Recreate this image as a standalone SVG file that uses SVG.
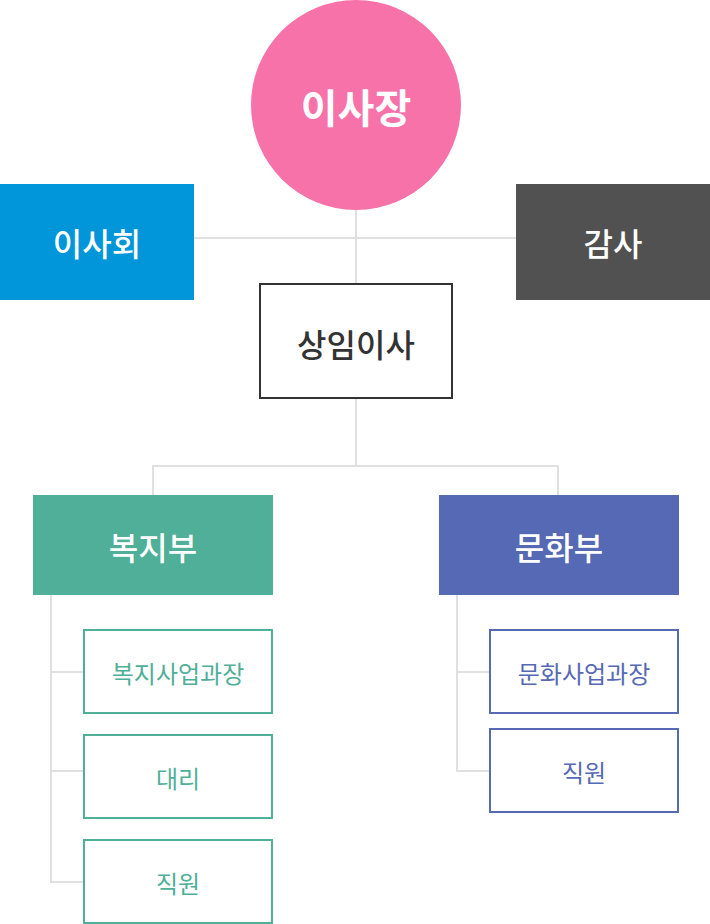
<svg xmlns="http://www.w3.org/2000/svg" width="710" height="924" viewBox="0 0 710 924">
<style>
text{font-family:"Noto Sans CJK KR","Noto Sans",sans-serif;text-anchor:middle;dominant-baseline:central}
.w{fill:#fff;font-size:32px;font-weight:500}
.line{stroke:#e0e0e0;stroke-width:2;fill:none}
.sg{fill:#fff;stroke:#4faf98;stroke-width:2}
.sb{fill:#fff;stroke:#5669b4;stroke-width:2}
.tg{fill:#4faf98;font-size:24px;font-weight:400}
.tb{fill:#5669b4;font-size:24px;font-weight:400}
</style>
<g id="connectors">
<path class="line" d="M194 238H516M356 210V284M356 398V466M153 495V466H558V495"/>
<path class="line" d="M51 595V882H84M51 672H84M51 771H84"/>
<path class="line" d="M457 595V771H490M457 672H490"/>
</g>
<g id="chairman"><circle cx="356" cy="105" r="105" fill="#f672a8"/><text x="356" y="106" class="w" style="font-size:40px;font-weight:700">이사장</text></g>
<g id="board"><rect x="0" y="184" width="194" height="116" fill="#0096d9"/><text x="97" y="242" class="w">이사회</text></g>
<g id="audit"><rect x="516" y="184" width="194" height="116" fill="#515151"/><text x="613" y="242" class="w">감사</text></g>
<g id="director"><rect x="260" y="284" width="192" height="114" fill="#fff" stroke="#333" stroke-width="2"/><text x="356" y="343" style="fill:#333;font-size:32px;font-weight:500">상임이사</text></g>
<g id="welfare"><rect x="33" y="495" width="240" height="100" fill="#4faf98"/><text x="153" y="546" class="w">복지부</text></g>
<g id="culture"><rect x="439" y="495" width="240" height="100" fill="#5669b4"/><text x="559" y="546" class="w">문화부</text></g>
<g id="welfare-manager"><rect x="84" y="630" width="188" height="83" class="sg"/><text x="178" y="672" class="tg">복지사업과장</text></g>
<g id="welfare-assistant"><rect x="84" y="735" width="188" height="83" class="sg"/><text x="178" y="777" class="tg">대리</text></g>
<g id="welfare-staff"><rect x="84" y="840" width="188" height="83" class="sg"/><text x="178" y="882" class="tg">직원</text></g>
<g id="culture-manager"><rect x="490" y="630" width="188" height="83" class="sb"/><text x="584" y="672" class="tb">문화사업과장</text></g>
<g id="culture-staff"><rect x="490" y="729" width="188" height="83" class="sb"/><text x="584" y="771" class="tb">직원</text></g>
</svg>
